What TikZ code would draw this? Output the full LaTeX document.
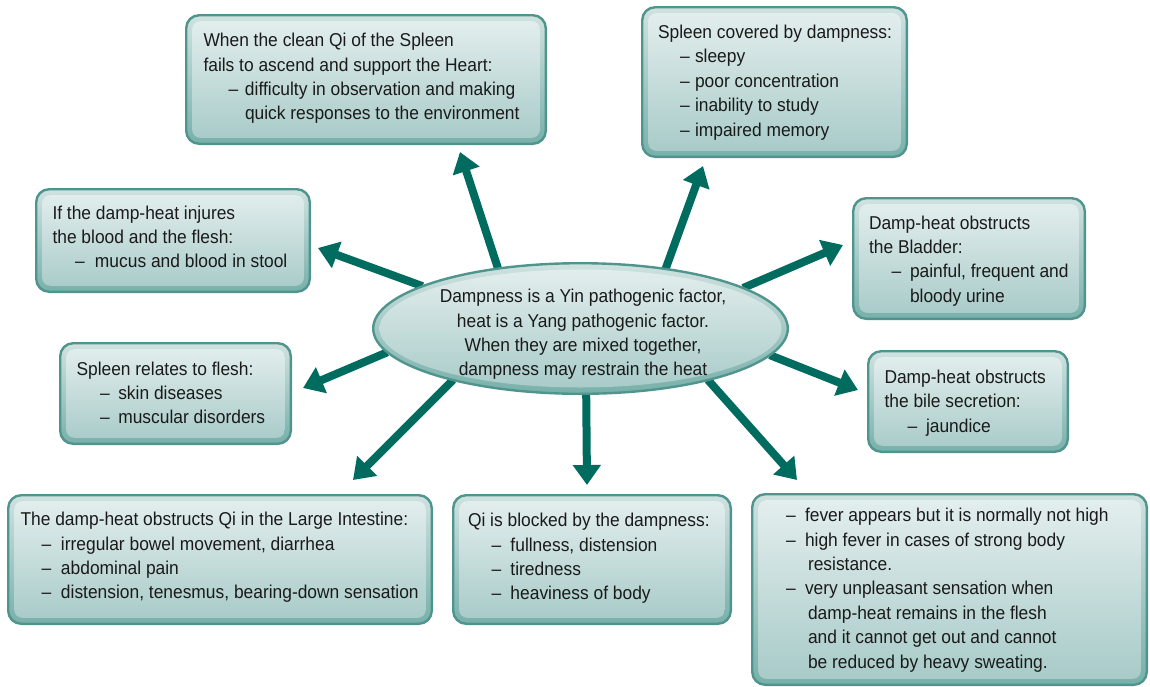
\documentclass[tikz,border=0pt]{standalone}
\usepackage{fontspec}
\setmainfont{Liberation Sans}[FakeStretch=0.935]
\usetikzlibrary{arrows.meta,backgrounds,shapes.geometric}

\definecolor{edge}{HTML}{4F958E}
\definecolor{ringtop}{HTML}{CFE2E0}
\definecolor{ringbot}{HTML}{78B0AA}
\definecolor{intop}{HTML}{E5EFEF}
\definecolor{inbot}{HTML}{A6CAC7}
\definecolor{arrowc}{HTML}{006B5F}
\definecolor{ink}{HTML}{1A1A1A}

% indentation of list items: \ind before the dash, \dwd from dash to text
\newlength\ind
\newlength\dwd
\newcommand\dl[1]{\hspace*{\ind}\makebox[\dwd][l]{\textendash}#1}
\newcommand\cl[1]{\hspace*{\ind}\hspace*{\dwd}#1}

\tikzset{
  panel/.style={draw=edge, line width=2.4pt, rounded corners=13pt,
    top color=ringtop, bottom color=ringbot, inner sep=0pt, outer sep=0pt,
    path picture={\shade[rounded corners=8pt, top color=intop, bottom color=inbot]
      ([shift={(6pt,-6pt)}]path picture bounding box.north west) rectangle
      ([shift={(-6pt,6pt)}]path picture bounding box.south east);}},
  hub/.style={ellipse, draw=edge, line width=2.4pt,
    top color=ringtop, bottom color=ringbot, inner sep=0pt, outer sep=0pt,
    path picture={\shade[top color=intop, bottom color=inbot]
      (path picture bounding box.center) ellipse [x radius=201pt, y radius=59pt];}},
  txt/.style={inner sep=0pt, outer sep=0pt, text=ink, anchor=base west,
    font=\fontsize{18.6}{24.4}\selectfont},
  arr/.style={draw=arrowc, line width=8pt, -{Triangle[length=20pt,width=27pt]}},
}

\begin{document}
\begin{tikzpicture}[x=1pt, y=-1pt]
\useasboundingbox (0,0) rectangle (1150,686);

% ---- panels ----
\node[panel, minimum width=359.6pt, minimum height=128.6pt] (heart) at (366,79.5) {};
\node[panel, minimum width=264.6pt, minimum height=149.6pt] (sleepy) at (774.5,82) {};
\node[panel, minimum width=273.6pt, minimum height=102.6pt] (blood) at (173,240.5) {};
\node[panel, minimum width=231.6pt, minimum height=120.6pt] (bladder) at (969,258.5) {};
\node[panel, minimum width=230.6pt, minimum height=100.6pt] (flesh) at (175.5,393.5) {};
\node[panel, minimum width=199.6pt, minimum height=100.6pt] (bile) at (968,401.5) {};
\node[panel, minimum width=423.6pt, minimum height=128.6pt] (intestine) at (220,559.5) {};
\node[panel, minimum width=277.6pt, minimum height=128.6pt] (blocked) at (592,559.5) {};
\node[panel, minimum width=394.6pt, minimum height=190.6pt] (fever) at (949.5,589.5) {};

% ---- centre ----
\node[hub, minimum width=414.6pt, minimum height=130.6pt] (c) at (580.5,328.5) {};
\node[txt, anchor=base] (c-t) at (583,302.7) {\begin{tabular}[t]{@{}c@{}}
Dampness is a Yin pathogenic factor,\\
heat is a Yang pathogenic factor.\\
When they are mixed together,\\
dampness may restrain the heat
\end{tabular}};

% ---- panel texts ----
\node[txt] (heart-t) at (203.5,46.7) {\setlength\ind{25pt}\setlength\dwd{16.5pt}%
\begin{tabular}[t]{@{}l@{}}
When the clean Qi of the Spleen\\
fails to ascend and support the Heart:\\
\dl{difficulty in observation and making}\\
\cl{quick responses to the environment}
\end{tabular}};

\node[txt] (sleepy-t) at (658,38.5) {\setlength\ind{22pt}\setlength\dwd{15pt}%
\begin{tabular}[t]{@{}l@{}}
Spleen covered by dampness:\\
\dl{sleepy}\\
\dl{poor concentration}\\
\dl{inability to study}\\
\dl{impaired memory}
\end{tabular}};

\node[txt] (blood-t) at (52.5,219) {\setlength\ind{22.5pt}\setlength\dwd{20pt}%
\begin{tabular}[t]{@{}l@{}}
If the damp-heat injures\\
the blood and the flesh:\\
\dl{mucus and blood in stool}
\end{tabular}};

\node[txt] (bladder-t) at (869,229) {\setlength\ind{22.5pt}\setlength\dwd{18.5pt}%
\begin{tabular}[t]{@{}l@{}}
Damp-heat obstructs\\
the Bladder:\\
\dl{painful, frequent and}\\
\cl{bloody urine}
\end{tabular}};

\node[txt] (flesh-t) at (76.5,375) {\setlength\ind{23.5pt}\setlength\dwd{18.3pt}%
\begin{tabular}[t]{@{}l@{}}
Spleen relates to flesh:\\
\dl{skin diseases}\\
\dl{muscular disorders}
\end{tabular}};

\node[txt] (bile-t) at (884.5,383.3) {\setlength\ind{23pt}\setlength\dwd{18.5pt}%
\begin{tabular}[t]{@{}l@{}}
Damp-heat obstructs\\
the bile secretion:\\
\dl{jaundice}
\end{tabular}};

\node[txt] (intestine-t) at (20.5,525.7) {\setlength\ind{21pt}\setlength\dwd{19.5pt}%
\begin{tabular}[t]{@{}l@{}}
The damp-heat obstructs Qi in the Large Intestine:\\
\dl{irregular bowel movement, diarrhea}\\
\dl{abdominal pain}\\
\dl{distension, tenesmus, bearing-down sensation}
\end{tabular}};

\node[txt] (blocked-t) at (468,526.7) {\setlength\ind{23.5pt}\setlength\dwd{19pt}%
\begin{tabular}[t]{@{}l@{}}
Qi is blocked by the dampness:\\
\dl{fullness, distension}\\
\dl{tiredness}\\
\dl{heaviness of body}
\end{tabular}};

\node[txt] (fever-t) at (786,521.7) {\setlength\ind{0pt}\setlength\dwd{19pt}%
\begin{tabular}[t]{@{}l@{}}
\dl{fever appears but it is normally not high}\\
\dl{high fever in cases of strong body}\\
\cl{\hspace*{3pt}resistance.}\\
\dl{very unpleasant sensation when}\\
\cl{\hspace*{3pt}damp-heat remains in the flesh}\\
\cl{\hspace*{3pt}and it cannot get out and cannot}\\
\cl{\hspace*{3pt}be reduced by heavy sweating.}
\end{tabular}};

% ---- arrow tips ----
\coordinate (to-heart) at (460,152);
\coordinate (to-sleepy) at (703,166);
\coordinate (to-blood) at (318,248);
\coordinate (to-bladder) at (843,245);
\coordinate (to-flesh) at (303,388);
\coordinate (to-bile) at (858,390);
\coordinate (to-intestine) at (353,480);
\coordinate (to-blocked) at (587,485);
\coordinate (to-fever) at (797,480);

% ---- arrows, behind the centre ellipse ----
\begin{pgfonlayer}{background}
\draw[arr] (c.144) -- (to-heart);
\draw[arr] (c.35.4) -- (to-sleepy);
\draw[arr] (c.165.4) -- (to-blood);
\draw[arr] (c.14.2) -- (to-bladder);
\draw[arr] (c.187.5) -- (to-flesh);
\draw[arr] (c.352) -- (to-bile);
\draw[arr] (c.202.4) -- (to-intestine);
\draw[arr] (c.275.6) -- (to-blocked);
\draw[arr] (c.338.1) -- (to-fever);
\end{pgfonlayer}
\end{tikzpicture}
\end{document}
